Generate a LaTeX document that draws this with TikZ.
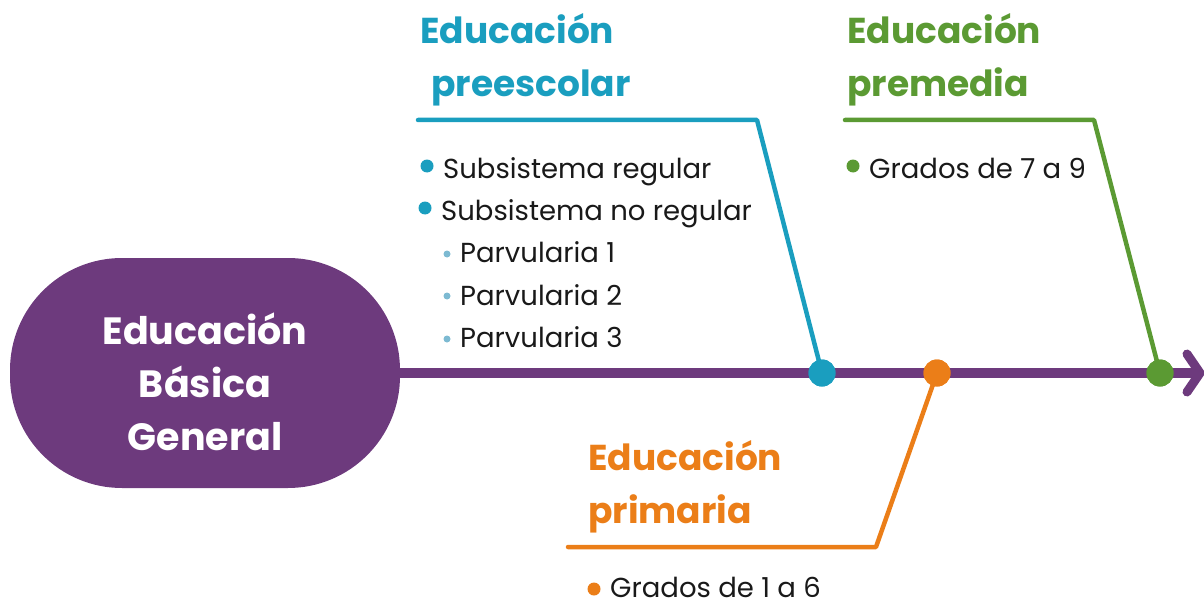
\documentclass[tikz,border=0pt]{standalone}
\usepackage{fontspec}
\setmainfont{Poppins}
\definecolor{purp}{HTML}{6D3A7D}
\definecolor{blu}{HTML}{1A9EBF}
\definecolor{lblu}{HTML}{7DBAD2}
\definecolor{grn}{HTML}{5B9A33}
\definecolor{org}{HTML}{EB7E18}
\begin{document}
\begin{tikzpicture}[x=1pt,y=-1pt,
  title/.style={anchor=base west,inner sep=0pt,font=\fontsize{36}{40}\selectfont\bfseries},
  body/.style={anchor=base west,inner sep=0pt,font=\fontsize{27.5}{30}\selectfont,text=black!90},
  dot/.style={circle,fill=#1,minimum size=27pt,inner sep=0pt},
  bul/.style={circle,fill=#1,minimum size=13pt,inner sep=0pt},
  sbul/.style={circle,fill=lblu,minimum size=7pt,inner sep=0pt},
  branch/.style={line width=4.5pt,draw=#1,line cap=round,line join=round}]
\useasboundingbox (0,0) rectangle (1204,607);
% main oval
\node[draw=none,fill=purp,rounded corners=112pt,minimum width=390pt,minimum height=230pt,inner sep=0pt] (main) at (205,373) {};
\node[align=center,text=white,font=\fontsize{38}{53}\selectfont\bfseries] (maintxt) at (205,382) {Educación\\Básica\\General};
% axis
\coordinate (axend) at (1200,373);
\draw[purp,line width=10pt] (main.east) -- (axend);
\draw[purp,line width=9pt,line cap=round,line join=round] (1187,354) -- (axend) -- (1187,392);
% branches
\coordinate (bA) at (418,120); \coordinate (bB) at (757,120);
\coordinate (gA) at (845,120); \coordinate (gB) at (1094,120);
\coordinate (oA) at (568,547); \coordinate (oB) at (876,547);
\node[dot=blu] (db) at (822,373) {};
\node[dot=org] (do) at (937,373) {};
\node[dot=grn] (dg) at (1160,373) {};
\draw[branch=blu] (bA) -- (bB) -- (db.center);
\draw[branch=grn] (gA) -- (gB) -- (dg.center);
\draw[branch=org] (oA) -- (oB) -- (do.center);
\node[dot=blu] at (db) {};
\node[dot=org] at (do) {};
\node[dot=grn] at (dg) {};
% titles
\node[title,text=blu] (tb1) at (420,44) {Educación};
\node[title,text=blu] (tb2) at (431,97) {preescolar};
\node[title,text=grn] (tg1) at (847,44) {Educación};
\node[title,text=grn] (tg2) at (847,97) {premedia};
\node[title,text=org] (to1) at (588,470) {Educación};
\node[title,text=org] (to2) at (588,523) {primaria};
% items
\node[bul=blu] (b1) at (427,166) {};
\node[body] (i1) at (443,178) {Subsistema regular};
\node[bul=blu] (b2) at (425,208) {};
\node[body] (i2) at (441,220) {Subsistema no regular};
\node[sbul] (s1) at (447,254) {};
\node[body] (i3) at (460,262) {Parvularia 1};
\node[sbul] (s2) at (447,296) {};
\node[body] (i4) at (460,305) {Parvularia 2};
\node[sbul] (s3) at (447,339) {};
\node[body] (i5) at (460,347) {Parvularia 3};
\node[bul=grn] (b3) at (853,166) {};
\node[body] (i6) at (869,178) {Grados de 7 a 9};
\node[bul=org] (b4) at (594,589) {};
\node[body] (i7) at (610,597) {Grados de 1 a 6};
\end{tikzpicture}
\end{document}
